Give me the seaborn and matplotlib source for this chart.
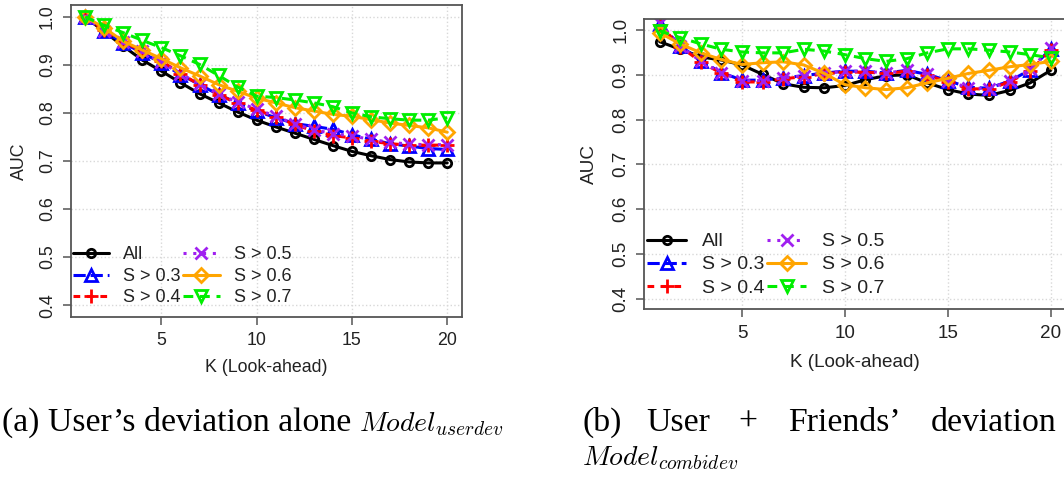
import numpy as np
import pandas as pd
import matplotlib
matplotlib.use("Agg")
import matplotlib.pyplot as plt
import seaborn as sns

sns.set_theme(style="white")
plt.rcParams["font.family"] = ["Liberation Sans", "DejaVu Sans"]
plt.rcParams["mathtext.fontset"] = "cm"

# ---- data -------------------------------------------------------------
K = list(range(1, 21))
series_names = ["All", "S > 0.3", "S > 0.4", "S > 0.5", "S > 0.6", "S > 0.7"]

# (a) user's deviation alone
userdev_all = [1.000, 0.969, 0.939, 0.910, 0.887, 0.863, 0.840, 0.821, 0.802, 0.785,
               0.771, 0.758, 0.745, 0.732, 0.720, 0.711, 0.703, 0.698, 0.696, 0.696]
userdev_s03 = [1.000, 0.970, 0.946, 0.925, 0.904, 0.880, 0.859, 0.838, 0.821, 0.804,
               0.790, 0.778, 0.772, 0.766, 0.755, 0.745, 0.736, 0.731, 0.726, 0.724]
userdev_s04 = [1.000, 0.972, 0.947, 0.929, 0.908, 0.882, 0.859, 0.838, 0.820, 0.806,
               0.792, 0.776, 0.762, 0.753, 0.748, 0.741, 0.736, 0.733, 0.733, 0.733]
userdev_s05 = [1.000, 0.971, 0.948, 0.928, 0.905, 0.882, 0.860, 0.840, 0.822, 0.808,
               0.793, 0.777, 0.765, 0.757, 0.752, 0.745, 0.739, 0.735, 0.734, 0.734]
userdev_s06 = [1.000, 0.977, 0.949, 0.931, 0.913, 0.894, 0.877, 0.859, 0.845, 0.831,
               0.821, 0.811, 0.804, 0.797, 0.793, 0.786, 0.779, 0.774, 0.769, 0.760]
userdev_s07 = [1.000, 0.982, 0.967, 0.951, 0.936, 0.919, 0.901, 0.878, 0.854, 0.835,
               0.832, 0.827, 0.821, 0.813, 0.800, 0.792, 0.788, 0.785, 0.785, 0.790]

# (b) user + friends' deviation
combidev_all = [0.974, 0.957, 0.940, 0.933, 0.922, 0.901, 0.880, 0.872, 0.871, 0.876,
                0.889, 0.898, 0.900, 0.882, 0.867, 0.857, 0.854, 0.865, 0.882, 0.910]
combidev_s03 = [1.014, 0.965, 0.931, 0.905, 0.888, 0.888, 0.893, 0.898, 0.904, 0.908,
                0.908, 0.904, 0.910, 0.901, 0.887, 0.872, 0.870, 0.886, 0.911, 0.958]
combidev_s04 = [1.012, 0.963, 0.929, 0.903, 0.884, 0.884, 0.891, 0.896, 0.902, 0.906,
                0.906, 0.903, 0.908, 0.899, 0.884, 0.869, 0.868, 0.884, 0.909, 0.955]
combidev_s05 = [1.016, 0.964, 0.930, 0.904, 0.887, 0.887, 0.893, 0.898, 0.904, 0.908,
                0.908, 0.904, 0.910, 0.901, 0.886, 0.871, 0.869, 0.886, 0.912, 0.960]
combidev_s06 = [0.994, 0.969, 0.949, 0.934, 0.923, 0.927, 0.929, 0.922, 0.903, 0.878,
                0.871, 0.867, 0.871, 0.882, 0.892, 0.903, 0.910, 0.918, 0.923, 0.930]
combidev_s07 = [0.998, 0.983, 0.969, 0.957, 0.951, 0.949, 0.949, 0.957, 0.953, 0.945,
                0.936, 0.930, 0.936, 0.949, 0.958, 0.958, 0.955, 0.951, 0.945, 0.938]

x_ticks = [5, 10, 15, 20]
y_ticks = [0.4, 0.5, 0.6, 0.7, 0.8, 0.9, 1.0]

# ---- styles -----------------------------------------------------------
colors = ["black", "#0000FF", "#FF0000", "#A020F0", "#FFA500", "#00EE00"]
markers = ["o", "^", "+", "x", "D", "v"]
msizes = [6.0, 8.5, 10, 9, 7.5, 8.5]
lstyles = ["-", (0, (4, 1.6)), (0, (2.2, 2.2)), (0, (1, 2.2)), "-", (0, (3.2, 2.2))]


def draw_panel(ax, values, fs, legend_fs, leg_anchor, leg_spacing, xlabel_y, ylabel_x):
    df = pd.DataFrame({"K": np.tile(K, len(values)),
                       "AUC": np.concatenate(values),
                       "series": np.repeat(series_names, len(K))})
    for name, c, m, ms, ls in zip(series_names, colors, markers, msizes, lstyles):
        sub = df[df["series"] == name]
        sns.lineplot(data=sub, x="K", y="AUC", ax=ax, color=c, marker=m,
                     markersize=ms, markerfacecolor="none", markeredgecolor=c,
                     markeredgewidth=2.0, linewidth=2.2, linestyle=ls,
                     label=name, legend=False)
    ax.set_xlim(0.24, 20.76)
    ax.set_ylim(0.376, 1.024)
    ax.set_xticks(x_ticks)
    ax.set_yticks(y_ticks)
    ax.set_yticklabels([f"{v:.1f}" for v in y_ticks])
    ax.grid(True, color="#d8d8d8", linestyle=":", linewidth=1.0)
    for s in ax.spines.values():
        s.set_color("#555555")
        s.set_linewidth(1.3)
    ax.tick_params(axis="both", which="major", length=6, width=1.1, color="#555555",
                   labelsize=fs, labelcolor="#222222", direction="out",
                   bottom=True, left=True)
    ax.tick_params(axis="y", pad=4.5)
    ax.tick_params(axis="x", pad=5)
    for lab in ax.get_yticklabels():
        lab.set_rotation(90)
        lab.set_va("center")
    ax.set_xlabel("K (Look-ahead)", fontsize=fs, color="#222222")
    ax.set_ylabel("AUC", fontsize=fs, color="#222222")
    ax.xaxis.set_label_coords(0.5, xlabel_y)
    ax.yaxis.set_label_coords(ylabel_x, 0.5)
    handles, labels = ax.get_legend_handles_labels()
    ax.legend(handles, labels, ncol=2, loc="lower left", bbox_to_anchor=leg_anchor,
              frameon=False, fontsize=legend_fs, handlelength=2.0,
              handletextpad=0.8, columnspacing=0.15, labelspacing=leg_spacing,
              borderpad=0.0, borderaxespad=0.0, labelcolor="#222222")


fig = plt.figure(figsize=(10.64, 4.79), dpi=100)

ax_a = fig.add_axes([70.7 / 1064, 1 - 316.7 / 479, 391.0 / 1064, 311.4 / 479])
draw_panel(ax_a,
           [userdev_all, userdev_s03, userdev_s04, userdev_s05, userdev_s06, userdev_s07],
           fs=12.8, legend_fs=13, leg_anchor=(0.005, 0.033), leg_spacing=0.25,
           xlabel_y=-0.135, ylabel_x=-0.11)

ax_b = fig.add_axes([644.0 / 1064, 1 - 309.3 / 479, 422.4 / 1064, 290.0 / 479])
draw_panel(ax_b,
           [combidev_all, combidev_s03, combidev_s04, combidev_s05, combidev_s06, combidev_s07],
           fs=13.6, legend_fs=14, leg_anchor=(0.008, 0.044), leg_spacing=0.28,
           xlabel_y=-0.155, ylabel_x=-0.108)

# ---- sub-figure captions ----------------------------------------------
serif = ["Liberation Serif", "DejaVu Serif"]
body = dict(fontsize=24.3, family=serif, color="black", va="baseline")
math = dict(fontsize=20, color="black", va="baseline", ha="left")
line1_y = 1 - 431 / 479
line2_y = 1 - 465 / 479

fig.text(2 / 1064, line1_y, "(a) User’s deviation alone", ha="left", **body)
fig.text(359 / 1064, line1_y, "$Model_{userdev}$", **math)

# justified first line of caption (b)
for word, xpx, align in [("(b)", 582, "left"), ("User", 646, "left"),
                         ("+", 738, "left"), ("Friends’", 788, "left"),
                         ("deviation", 1057, "right")]:
    fig.text(xpx / 1064, line1_y, word, ha=align, **body)
fig.text(582 / 1064, line2_y, "$Model_{combidev}$", **math)

fig.savefig("out.png", dpi=100)
